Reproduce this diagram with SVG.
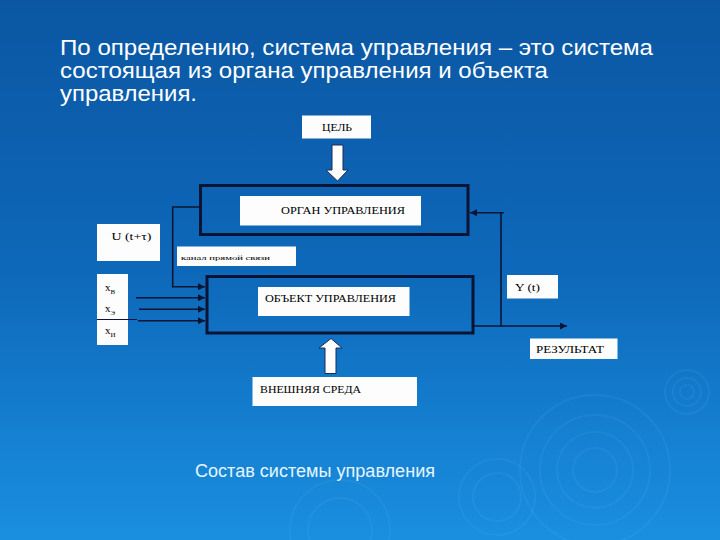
<svg xmlns="http://www.w3.org/2000/svg" width="720" height="540" viewBox="0 0 720 540">
<defs>
<linearGradient id="bg" x1="0" y1="0" x2="0" y2="1">
<stop offset="0" stop-color="#0b57a3"/>
<stop offset="0.5" stop-color="#0e68b9"/>
<stop offset="1" stop-color="#1a8fe0"/>
</linearGradient>
<marker id="ah" viewBox="0 0 10 10" refX="10" refY="5" markerWidth="7" markerHeight="7" markerUnits="userSpaceOnUse" orient="auto">
<path d="M0,0 L10,5 L0,10 z" fill="#0a1535"/>
</marker>
<style>
.title{font-family:"Liberation Sans",Arial,sans-serif;font-size:22px;fill:#ffffff}
.cap{font-family:"Liberation Sans",Arial,sans-serif;font-size:17.5px;fill:#e6f6ff}
.lbl{font-family:"Liberation Serif","DejaVu Serif",serif;font-size:11px;fill:#000}
.sm{font-family:"Liberation Serif","DejaVu Serif",serif;font-size:7px;fill:#000}
.wb{fill:#fdfdfd;stroke:none}
.frame{fill:none;stroke:#0a1535;stroke-width:3}
.ln{fill:none;stroke:#0a1535;stroke-width:1.6}
.hollow{fill:#ffffff;stroke:#1a2a55;stroke-width:1}
.rip{fill:none;stroke:#6cc0f5;stroke-opacity:0.1;stroke-width:2}
</style>
</defs>
<rect width="720" height="540" fill="url(#bg)"/>
<g id="ripples">
<circle class="rip" cx="595" cy="470" r="75"/>
<circle class="rip" cx="595" cy="470" r="55"/>
<circle class="rip" cx="595" cy="470" r="38"/>
<circle class="rip" cx="595" cy="470" r="22"/>
<circle class="rip" cx="687" cy="392" r="22"/>
<circle class="rip" cx="687" cy="392" r="14"/>
<circle class="rip" cx="687" cy="392" r="7"/>
<circle class="rip" cx="497" cy="497" r="38"/>
<circle class="rip" cx="497" cy="497" r="24"/>
<circle class="rip" cx="340" cy="530" r="50"/>
<circle class="rip" cx="340" cy="530" r="32"/>
</g>
<g id="title">
<text class="title" x="60" y="55" textLength="593" lengthAdjust="spacingAndGlyphs">По определению, система управления – это система</text>
<text class="title" x="60" y="78" textLength="488" lengthAdjust="spacingAndGlyphs">состоящая из органа управления и объекта</text>
<text class="title" x="60" y="101" textLength="137" lengthAdjust="spacingAndGlyphs">управления.</text>
</g>
<g id="connectors">
<path class="ln" d="M200,207 H172.7 V286.7 H205" marker-end="url(#ah)"/>
<line class="ln" x1="136" y1="297.7" x2="205" y2="297.7" marker-end="url(#ah)"/>
<line class="ln" x1="139" y1="309.3" x2="205" y2="309.3" marker-end="url(#ah)"/>
<line class="ln" x1="138" y1="320.7" x2="205" y2="320.7" marker-end="url(#ah)"/>
<line class="ln" x1="473" y1="326" x2="567" y2="326" marker-end="url(#ah)"/>
<path class="ln" d="M501,326 V212.7"/>
<line class="ln" x1="504" y1="212.7" x2="470" y2="212.7" marker-end="url(#ah)"/>
<path class="hollow" d="M332,145 H343 V170 H348 L337.5,181 L326,170 H332 Z"/>
<path class="hollow" d="M325,373.5 H336 V348 H342 L331,338.5 L319,348 H325 Z"/>
</g>
<g id="goal">
<rect class="wb" x="302" y="115.5" width="69" height="23"/>
<text class="lbl" x="322" y="131" textLength="30" lengthAdjust="spacingAndGlyphs">ЦЕЛЬ</text>
</g>
<g id="organ">
<rect class="frame" x="200.5" y="185.5" width="267.5" height="49"/>
<rect class="wb" x="240" y="196" width="181" height="29.5"/>
<text class="lbl" x="281" y="214" textLength="124" lengthAdjust="spacingAndGlyphs">ОРГАН УПРАВЛЕНИЯ</text>
</g>
<g id="u">
<rect class="wb" x="97" y="224" width="63" height="37"/>
<text class="lbl" x="111.5" y="240" textLength="40" lengthAdjust="spacingAndGlyphs">U (t+τ)</text>
</g>
<g id="channel">
<rect class="wb" x="177" y="246.5" width="119" height="19.5"/>
<text class="sm" x="181" y="259.5" textLength="89" lengthAdjust="spacingAndGlyphs">канал прямой связи</text>
</g>
<g id="inputs">
<rect class="wb" x="97" y="274" width="31" height="71"/>
<line x1="97" y1="319.5" x2="137" y2="319.5" stroke="#0a1535" stroke-width="1.2"/>
<text class="lbl" x="105" y="291">x<tspan font-size="7" dy="3">В</tspan></text>
<text class="lbl" x="105" y="312">x<tspan font-size="7" dy="3">Э</tspan></text>
<text class="lbl" x="105" y="334">x<tspan font-size="7" dy="3">И</tspan></text>
</g>
<g id="object">
<rect class="frame" x="207" y="276.5" width="266" height="56.5"/>
<rect class="wb" x="258" y="287" width="151.5" height="29"/>
<text class="lbl" x="265" y="302" textLength="131" lengthAdjust="spacingAndGlyphs">ОБЪЕКТ УПРАВЛЕНИЯ</text>
</g>
<g id="yt">
<rect class="wb" x="507" y="275" width="51" height="23.5"/>
<text class="lbl" x="515" y="291" textLength="25" lengthAdjust="spacingAndGlyphs">Y  (t)</text>
</g>
<g id="result">
<rect class="wb" x="530" y="338.5" width="87.5" height="20.5"/>
<text class="lbl" x="536" y="353" textLength="68" lengthAdjust="spacingAndGlyphs">РЕЗУЛЬТАТ</text>
</g>
<g id="env">
<rect class="wb" x="252.5" y="377" width="164.5" height="29"/>
<text class="lbl" x="260" y="393" textLength="101" lengthAdjust="spacingAndGlyphs">ВНЕШНЯЯ СРЕДА</text>
</g>
<g id="caption">
<text class="cap" x="195" y="477" textLength="240" lengthAdjust="spacingAndGlyphs">Состав системы управления</text>
</g>
</svg>
